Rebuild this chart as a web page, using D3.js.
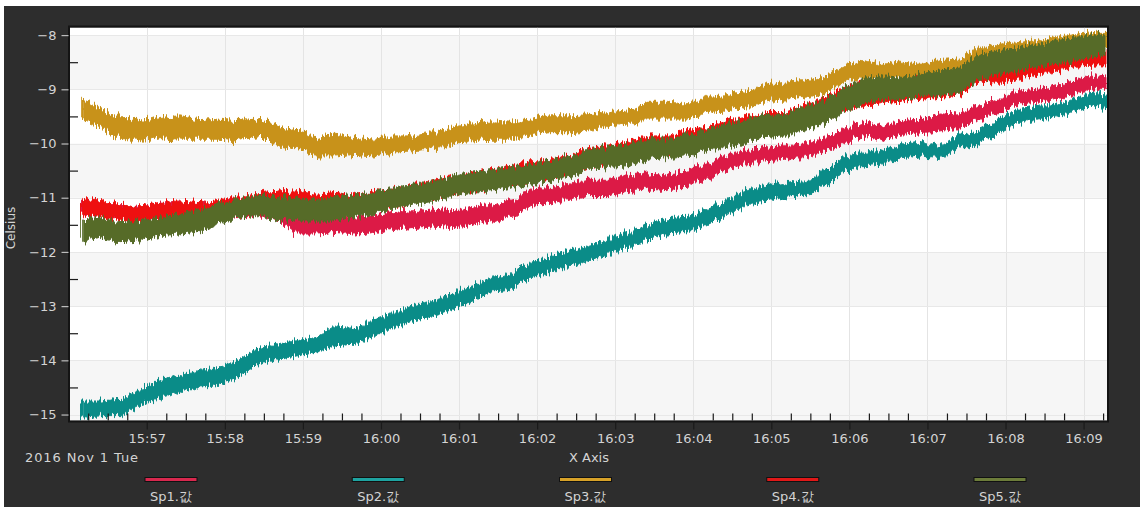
<!DOCTYPE html>
<html>
<head>
<meta charset="utf-8">
<script src="https://cdn.jsdelivr.net/npm/d3@7"></script>
<style>
  html, body { margin: 0; padding: 0; background: #ffffff; }
  svg { display: block; }
</style>
</head>
<body>
<svg id="chart" width="1144" height="507"></svg>
<script>
// Sample times (15 s buckets); each series keeps the min/max reading of a bucket.
const sampleTimes = [
  "15:56:10","15:56:25","15:56:40","15:56:55",
  "15:57:10","15:57:25","15:57:40","15:57:55",
  "15:58:10","15:58:25","15:58:40","15:58:55",
  "15:59:10","15:59:25","15:59:40","15:59:55",
  "16:00:10","16:00:25","16:00:40","16:00:55",
  "16:01:10","16:01:25","16:01:40","16:01:55",
  "16:02:10","16:02:25","16:02:40","16:02:55",
  "16:03:10","16:03:25","16:03:40","16:03:55",
  "16:04:10","16:04:25","16:04:40","16:04:55",
  "16:05:10","16:05:25","16:05:40","16:05:55",
  "16:06:10","16:06:25","16:06:40","16:06:55",
  "16:07:10","16:07:25","16:07:40","16:07:55",
  "16:08:10","16:08:25","16:08:40","16:08:55",
  "16:09:10","16:09:18"
];

const seriesNames = ["Sp1.값", "Sp2.값", "Sp3.값", "Sp4.값", "Sp5.값"];

const sp1Hi = [-11.08,-11.12,-11.16,-11.18,-11.14,-11.12,-11.14,-11.12,-11.05,-11.05,-11.10,-11.21,-11.24,-11.30,-11.36,-11.33,-11.27,-11.24,-11.21,-11.24,-11.18,-11.12,-11.06,-10.84,-10.81,-10.75,-10.66,-10.66,-10.60,-10.56,-10.60,-10.50,-10.38,-10.23,-10.13,-10.07,-10.04,-10.01,-9.92,-9.74,-9.61,-9.67,-9.58,-9.55,-9.46,-9.43,-9.30,-9.18,-9.03,-9.00,-8.93,-8.81,-8.75,-8.78];
const sp1Lo = [-11.28,-11.32,-11.36,-11.40,-11.33,-11.35,-11.38,-11.36,-11.33,-11.33,-11.38,-11.67,-11.67,-11.64,-11.67,-11.64,-11.58,-11.55,-11.52,-11.55,-11.49,-11.43,-11.36,-11.15,-11.09,-11.03,-10.96,-10.96,-10.90,-10.84,-10.87,-10.78,-10.66,-10.50,-10.38,-10.32,-10.29,-10.26,-10.16,-10.01,-9.86,-9.92,-9.83,-9.80,-9.77,-9.70,-9.55,-9.43,-9.27,-9.24,-9.18,-9.06,-9.00,-9.00];

const sp2Hi = [-14.75,-14.75,-14.72,-14.56,-14.35,-14.29,-14.19,-14.13,-14.01,-13.79,-13.70,-13.64,-13.58,-13.36,-13.42,-13.24,-13.12,-12.99,-12.90,-12.78,-12.62,-12.47,-12.41,-12.19,-12.10,-11.98,-11.89,-11.76,-11.64,-11.49,-11.39,-11.36,-11.24,-11.06,-10.87,-10.78,-10.72,-10.69,-10.53,-10.27,-10.16,-10.13,-10.01,-9.98,-10.04,-9.83,-9.77,-9.55,-9.37,-9.33,-9.27,-9.18,-9.03,-9.12];
const sp2Lo = [-15.05,-15.02,-15.02,-14.84,-14.69,-14.59,-14.50,-14.44,-14.32,-14.07,-13.98,-13.92,-13.85,-13.73,-13.70,-13.55,-13.39,-13.27,-13.18,-13.06,-12.90,-12.72,-12.69,-12.47,-12.38,-12.26,-12.16,-12.04,-11.92,-11.76,-11.67,-11.64,-11.52,-11.33,-11.15,-11.06,-10.99,-10.93,-10.81,-10.55,-10.41,-10.38,-10.26,-10.23,-10.26,-10.07,-10.01,-9.80,-9.61,-9.58,-9.49,-9.40,-9.27,-9.37];

const sp3Hi = [-9.18,-9.37,-9.52,-9.58,-9.52,-9.49,-9.58,-9.55,-9.58,-9.55,-9.67,-9.77,-9.89,-9.83,-9.89,-9.92,-9.86,-9.86,-9.80,-9.70,-9.64,-9.58,-9.61,-9.55,-9.49,-9.49,-9.47,-9.43,-9.40,-9.24,-9.24,-9.27,-9.15,-9.12,-9.03,-8.93,-8.87,-8.84,-8.78,-8.58,-8.47,-8.54,-8.50,-8.54,-8.47,-8.44,-8.23,-8.17,-8.14,-8.10,-8.04,-7.98,-7.95,-7.95];
const sp3Lo = [-9.55,-9.70,-9.92,-9.95,-9.89,-9.92,-9.92,-9.92,-9.95,-9.86,-10.04,-10.10,-10.23,-10.23,-10.20,-10.23,-10.16,-10.13,-10.10,-10.01,-9.95,-9.92,-9.92,-9.83,-9.80,-9.80,-9.77,-9.67,-9.64,-9.55,-9.55,-9.55,-9.43,-9.40,-9.33,-9.24,-9.18,-9.15,-9.09,-8.87,-8.78,-8.84,-8.78,-8.84,-8.78,-8.75,-8.54,-8.47,-8.44,-8.38,-8.32,-8.29,-8.23,-8.23];

const sp4Hi = [-11.03,-11.06,-11.12,-11.15,-11.09,-11.06,-11.09,-11.06,-10.99,-10.93,-10.90,-10.87,-10.96,-10.90,-10.96,-10.90,-10.84,-10.75,-10.69,-10.63,-10.56,-10.50,-10.44,-10.32,-10.32,-10.23,-10.07,-10.04,-9.95,-9.86,-9.86,-9.77,-9.70,-9.58,-9.52,-9.43,-9.43,-9.30,-9.18,-9.00,-8.87,-8.84,-8.84,-8.78,-8.72,-8.66,-8.50,-8.47,-8.41,-8.38,-8.32,-8.29,-8.28,-8.28];
const sp4Lo = [-11.33,-11.36,-11.40,-11.45,-11.38,-11.36,-11.40,-11.38,-11.33,-11.27,-11.24,-11.24,-11.30,-11.24,-11.27,-11.21,-11.15,-11.06,-11.00,-10.93,-10.87,-10.81,-10.75,-10.66,-10.63,-10.55,-10.40,-10.37,-10.28,-10.18,-10.16,-10.08,-10.02,-9.92,-9.85,-9.76,-9.75,-9.64,-9.52,-9.40,-9.30,-9.25,-9.22,-9.18,-9.15,-9.10,-8.85,-8.87,-8.82,-8.72,-8.66,-8.57,-8.55,-8.55];

const sp5Hi = [-11.39,-11.36,-11.46,-11.43,-11.36,-11.30,-11.24,-11.12,-11.03,-10.96,-10.96,-11.03,-11.03,-10.99,-10.96,-10.90,-10.81,-10.75,-10.69,-10.60,-10.53,-10.50,-10.44,-10.38,-10.32,-10.23,-10.12,-10.07,-10.01,-9.92,-9.92,-9.83,-9.77,-9.64,-9.55,-9.49,-9.46,-9.33,-9.21,-9.00,-8.81,-8.75,-8.78,-8.72,-8.66,-8.60,-8.35,-8.29,-8.23,-8.17,-8.10,-8.04,-7.98,-8.01];
const sp5Lo = [-11.79,-11.73,-11.83,-11.79,-11.70,-11.67,-11.64,-11.49,-11.36,-11.33,-11.39,-11.43,-11.43,-11.43,-11.36,-11.30,-11.18,-11.12,-11.06,-10.96,-10.90,-10.87,-10.81,-10.75,-10.69,-10.60,-10.47,-10.44,-10.41,-10.29,-10.26,-10.23,-10.13,-10.07,-9.98,-9.89,-9.86,-9.77,-9.64,-9.43,-9.27,-9.18,-9.18,-9.12,-9.12,-9.06,-8.81,-8.72,-8.66,-8.57,-8.54,-8.47,-8.38,-8.38];

const seriesColors = ["#dc1a46", "#0a8c88", "#c8921a", "#ee1010", "#566b28"];
const legendColors = ["#d8284e", "#1ea3a0", "#d6a128", "#e01818", "#6c7c3a"];

const yTicks = [-8, -9, -10, -11, -12, -13, -14, -15];
const yMinorTicks = [-8.5, -9.5, -10.5, -11.5, -12.5, -13.5, -14.5];
const xTickLabels = ["15:57","15:58","15:59","16:00","16:01","16:02","16:03","16:04","16:05","16:06","16:07","16:08","16:09"];
const xDomain = ["15:56:01", "16:09:18"];
const yDomain = [-15.11, -7.86];
const dateLabel = "2016 Nov 1 Tue";
const xTitle = "X Axis";
const yTitle = "Celsius";

// ---- layout ----
const W = 1144, H = 507;
const plot = { left: 70, right: 1107, top: 27.5, bottom: 420.5 };
const textColor = "#d4d4d4";
const font = "'DejaVu Sans', Verdana, sans-serif";

const parseT = d3.timeParse("%H:%M:%S");
const parseHM = d3.timeParse("%H:%M");

const x = d3.scaleTime().domain(xDomain.map(parseT)).range([plot.left, plot.right]);
const y = d3.scaleLinear().domain(yDomain).range([plot.bottom, plot.top]);

const svg = d3.select("#chart");
const defs = svg.append("defs");

// sensor jitter texture: column-wise vertical displacement of each band's edges
seriesNames.forEach((name, s) => {
  const f = defs.append("filter")
    .attr("id", `jitter${s}`)
    .attr("filterUnits", "userSpaceOnUse")
    .attr("x", plot.left - 10).attr("y", plot.top - 20)
    .attr("width", plot.right - plot.left + 20).attr("height", plot.bottom - plot.top + 40)
    .attr("color-interpolation-filters", "sRGB");
  f.append("feTurbulence")
    .attr("type", "fractalNoise")
    .attr("baseFrequency", "0.55 0.003")
    .attr("numOctaves", 2)
    .attr("seed", 3 + s * 7)
    .attr("result", "noise");
  f.append("feDisplacementMap")
    .attr("in", "SourceGraphic").attr("in2", "noise")
    .attr("scale", 13)
    .attr("xChannelSelector", "B").attr("yChannelSelector", "R");
});

// dark panel behind everything
svg.append("rect").attr("x", 4).attr("y", 6).attr("width", 1136).attr("height", H - 6)
  .attr("fill", "#2d2d2d");

// plot background with alternating bands
svg.append("rect")
  .attr("x", plot.left).attr("y", plot.top)
  .attr("width", plot.right - plot.left).attr("height", plot.bottom - plot.top)
  .attr("fill", "#ffffff");

const bands = [];
for (let i = 0; i < yTicks.length - 1; i += 2) {
  const hi = yTicks[i];
  const lo = (i + 1 === yTicks.length - 1) ? yDomain[0] : yTicks[i + 1];
  bands.push([lo, hi]);
}
svg.append("g").selectAll("rect").data(bands).join("rect")
  .attr("x", plot.left)
  .attr("width", plot.right - plot.left)
  .attr("y", d => y(d[1]))
  .attr("height", d => y(d[0]) - y(d[1]))
  .attr("fill", "#f6f6f6");

// grid lines
const xMajor = xTickLabels.map(parseHM);
svg.append("g").selectAll("line").data(xMajor).join("line")
  .attr("x1", d => Math.round(x(d)) + 0.5).attr("x2", d => Math.round(x(d)) + 0.5)
  .attr("y1", plot.top).attr("y2", plot.bottom)
  .attr("stroke", "#e4e4e4").attr("stroke-width", 1);
svg.append("g").selectAll("line").data(yTicks).join("line")
  .attr("x1", plot.left).attr("x2", plot.right)
  .attr("y1", d => Math.round(y(d)) + 0.5).attr("y2", d => Math.round(y(d)) + 0.5)
  .attr("stroke", "#e8e8e8").attr("stroke-width", 1);

// series bands (min/max envelope per bucket)
defs.append("clipPath").attr("id", "plotClip")
  .append("rect")
  .attr("x", plot.left).attr("y", plot.top)
  .attr("width", plot.right - plot.left).attr("height", plot.bottom - plot.top);

const times = sampleTimes.map(parseT);
const seriesHi = [sp1Hi, sp2Hi, sp3Hi, sp4Hi, sp5Hi];
const seriesLo = [sp1Lo, sp2Lo, sp3Lo, sp4Lo, sp5Lo];

const series = seriesNames.map((name, s) => ({
  name,
  index: s,
  color: seriesColors[s],
  points: times.map((t, i) => ({ t, hi: seriesHi[s][i], lo: seriesLo[s][i] }))
}));

const area = d3.area()
  .x(d => x(d.t))
  .y0(d => y(d.lo))
  .y1(d => y(d.hi))
  .curve(d3.curveLinear);

const gSeries = svg.append("g").attr("clip-path", "url(#plotClip)");
gSeries.selectAll("path").data(series).join("path")
  .attr("d", d => area(d.points))
  .attr("fill", d => d.color)
  .attr("stroke", d => d.color)
  .attr("stroke-width", 1)
  .attr("stroke-linejoin", "round")
  .attr("filter", d => `url(#jitter${d.index})`);

// plot frame
svg.append("rect")
  .attr("x", plot.left - 1).attr("y", plot.top - 1)
  .attr("width", plot.right - plot.left + 2).attr("height", plot.bottom - plot.top + 2)
  .attr("fill", "none").attr("stroke", "#141414").attr("stroke-width", 2);

// ---- axes ----
function styleAxis(g, tickColor) {
  g.select(".domain").remove();
  g.selectAll(".tick line").attr("stroke", tickColor).attr("stroke-width", 1.2);
  g.selectAll(".tick text")
    .attr("fill", textColor)
    .style("font-family", font)
    .style("font-size", "13px");
}

// y axis: labelled ticks outside, half-step ticks inside
svg.append("g")
  .attr("transform", `translate(${plot.left - 1.5},0)`)
  .call(d3.axisLeft(y).tickValues(yTicks).tickSize(7).tickPadding(5).tickFormat(d3.format("d")))
  .call(g => styleAxis(g, "#bdbdbd"));
svg.append("g")
  .attr("transform", `translate(${plot.left},0)`)
  .call(d3.axisRight(y).tickValues(yMinorTicks).tickSize(8).tickFormat(""))
  .call(g => styleAxis(g, "#1a1a1a"));

// x axis: minute ticks outside, 15 s ticks inside
const xMinor = d3.timeSecond.every(15).range(x.domain()[0], x.domain()[1])
  .filter(t => t.getSeconds() !== 0);
svg.append("g")
  .attr("transform", `translate(0,${plot.bottom + 1})`)
  .call(d3.axisBottom(x).tickValues(xMajor).tickSize(8).tickPadding(4).tickFormat(d3.timeFormat("%H:%M")))
  .call(g => styleAxis(g, "#1a1a1a"));
svg.append("g")
  .attr("transform", `translate(0,${plot.bottom})`)
  .call(d3.axisTop(x).tickValues(xMinor).tickSize(7).tickFormat(""))
  .call(g => styleAxis(g, "#1a1a1a"));

// titles
svg.append("text")
  .attr("x", 25).attr("y", 458)
  .attr("dominant-baseline", "middle")
  .attr("fill", textColor)
  .style("font-family", font).style("font-size", "13px")
  .style("letter-spacing", "0.9px")
  .text(dateLabel);

svg.append("text")
  .attr("x", (plot.left + plot.right) / 2 + 0.5).attr("y", 458)
  .attr("text-anchor", "middle").attr("dominant-baseline", "middle")
  .attr("fill", textColor)
  .style("font-family", font).style("font-size", "13px")
  .text(xTitle);

svg.append("text")
  .attr("transform", "translate(11,228) rotate(-90)")
  .attr("text-anchor", "middle").attr("dominant-baseline", "middle")
  .attr("fill", textColor)
  .style("font-family", font).style("font-size", "12px")
  .text(yTitle);

// legend
const legendX = d3.scalePoint().domain(seriesNames).range([171, 1000]);
const legend = svg.append("g").selectAll("g").data(seriesNames).join("g")
  .attr("transform", d => `translate(${legendX(d)},0)`);
legend.append("rect")
  .attr("x", -26).attr("y", 477.5).attr("width", 52).attr("height", 4)
  .attr("fill", (d, i) => legendColors[i])
  .attr("stroke", "#111").attr("stroke-width", 1);
legend.append("text")
  .attr("y", 497).attr("text-anchor", "middle").attr("dominant-baseline", "middle")
  .attr("fill", textColor)
  .style("font-family", font).style("font-size", "13px")
  .text(d => d);
</script>
</body>
</html>
